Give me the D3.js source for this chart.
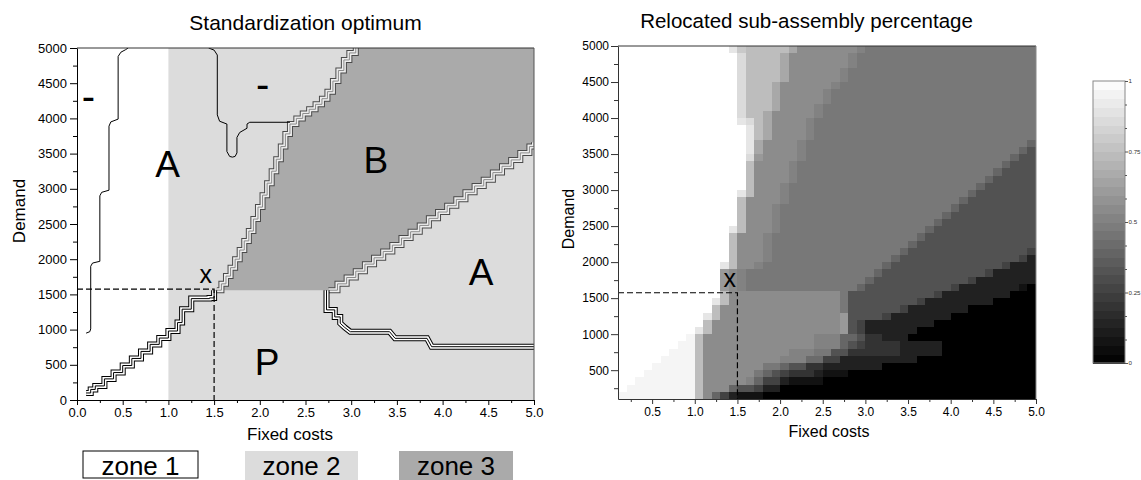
<!DOCTYPE html>
<html><head><meta charset="utf-8">
<script src="https://cdn.jsdelivr.net/npm/d3@7"></script>
<style>
html,body{margin:0;padding:0;background:#fff;}
svg{display:block;font-family:"Liberation Sans",Arial,Helvetica,sans-serif;}
</style></head><body>
<svg id="c" width="1141" height="480"></svg>
<script>
// ================= DATA =================
// Left chart: axis ticks
const leftXTicks = [0,0.5,1,1.5,2,2.5,3,3.5,4,4.5,5];
const leftXMinor = [0.25,0.75,1.25,1.75,2.25,2.75,3.25,3.75,4.25,4.75];
const leftYTicks = [0,500,1000,1500,2000,2500,3000,3500,4000,4500,5000];
const leftYMinor = [250,750,1250,1750,2250,2750,3250,3750,4250,4750];

// zone 1 / zone 2 split on fixed costs
const zoneSplit = 1.0;

// zone 3 (B) boundaries [fixed cost, demand]
const bLeftEdge = [[1.53,1560],[1.58,1650],[1.63,1760],[1.68,1880],[1.73,2000],[1.78,2130],[1.83,2260],[1.88,2400],[1.93,2570],[1.98,2740],[2.03,2910],[2.08,3080],[2.13,3250],[2.18,3420],[2.23,3600],[2.28,3780],[2.33,3920],[2.4,4000],[2.47,4070],[2.54,4130],[2.61,4200],[2.68,4280],[2.74,4380],[2.8,4530],[2.86,4680],[2.92,4830],[2.98,4930],[3.05,5000]];
const bRightEdge = [[2.75,1560],[2.85,1650],[2.95,1740],[3.05,1830],[3.15,1930],[3.25,2020],[3.35,2110],[3.45,2200],[3.55,2300],[3.65,2390],[3.75,2480],[3.85,2580],[3.95,2670],[4.05,2760],[4.15,2850],[4.25,2950],[4.35,3040],[4.45,3130],[4.55,3230],[4.65,3320],[4.75,3410],[4.85,3510],[4.95,3600],[5.0,3660]];

// zone 1 diagonal staircase boundary
const diagEdge = [[0.1,100],[0.15,150],[0.2,200],[0.3,300],[0.4,390],[0.5,490],[0.6,590],[0.7,690],[0.8,790],[0.9,880],[1.0,980],[1.1,1100],[1.15,1290],[1.25,1440],[1.45,1450],[1.5,1560]];

// P / A boundary
const paEdge = [[2.73,1560],[2.73,1280],[2.82,1280],[2.82,1180],[2.88,1180],[2.88,1090],[2.93,1030],[2.99,970],[3.42,970],[3.48,876],[3.83,876],[3.88,757],[5.0,757]];

// thin contour in zone 1 ("-" / "A")
const contourZone1 = [[0.10,950],[0.14,970],[0.15,1010],[0.15,1900],[0.17,1945],[0.25,1970],[0.25,2900],[0.27,2950],[0.35,2980],[0.35,3890],[0.37,3950],[0.45,3990],[0.45,4880],[0.48,4940],[0.53,4975],[0.56,5000]];
// thin contour in zone 2 ("-" region)
const contourZone2 = [[1.44,5000],[1.50,4970],[1.535,4900],[1.535,4050],[1.56,3960],[1.64,3920],[1.64,3530],[1.67,3460],[1.70,3450],[1.73,3460],[1.75,3510],[1.75,3730],[1.78,3800],[1.86,3860],[1.86,3920],[1.89,3945],[2.33,3945]];

// optimum point marker (fixed cost, demand) and label anchor
const optimum = [1.5, 1575];
const optimumLabel = [1.41, 1655];

// region labels in the left chart (baseline anchors in data units)
const regionText  = ["A","B","A","P","-","-"];
const regionX     = [0.99, 3.27, 4.42, 2.08, 0.126, 2.03];
const regionY     = [3167, 3224, 1633, 355, 4118, 4295];

// legend
const zoneNames = ["zone 1","zone 2","zone 3"];
const zoneFills = ["#ffffff","#dcdcdc","#aaaaaa"];

// Right chart: axis ticks
const rightXTicks = [0.5,1,1.5,2,2.5,3,3.5,4,4.5,5];
const rightXMinor = [0.25,0.75,1.25,1.75,2.25,2.75,3.25,3.75,4.25,4.75];
const rightYTicks = [500,1000,1500,2000,2500,3000,3500,4000,4500,5000];
const rightYMinor = [250,750,1250,1750,2250,2750,3250,3750,4250,4750];

// heatmap grid: columns fixed cost 0.1..5.0 (step 0.1), rows demand 5000..100 (step 100)
const heatX0 = 0.1, heatDX = 0.1, heatYTop = 5000, heatDY = 100;
// shade codes -> relocated percentage
const heatShades = {W:1, v:0.96, e:0.9, d:0.86, c:0.79, L:0.74, h:0.66, g:0.6, p:0.55, q:0.51, B:0.47, b:0.42, n:0.4, A:0.32, a:0.26, f:0.2, D:0.13, k:0.07, K:0};
// run-length rows, top (demand 5000) to bottom (demand 100)
const heatRows = [
"W13 e1 c1 L5 h1 p7 q1 B20",
"W14 d1 L4 h1 p7 q1 B21",
"W14 d1 L4 h1 p7 q1 B21",
"W14 d1 L4 h1 p6 q1 B22",
"W14 d1 L4 h1 p6 q1 B22",
"W14 d1 L3 h1 p6 q1 B23",
"W14 d1 L3 h1 p5 q1 B24",
"W14 d1 L3 h1 p5 q1 B24",
"W14 d1 L3 h1 p4 q1 B25",
"W14 d1 L2 h1 p5 q1 B25",
"W14 e1 d1 L1 h1 p4 q1 B26",
"W15 e1 L1 h1 p4 q1 B26",
"W15 e1 L1 h1 p4 q1 B26",
"W15 e1 h1 p4 q1 B26 n1",
"W15 e1 h1 p4 q1 B25 n1 A1",
"W15 d1 g1 p4 q1 B24 n1 A2",
"W15 L1 p4 q1 B24 n1 A3",
"W15 L1 p4 q1 B23 n1 A4",
"W15 L1 p4 q1 B22 n1 A5",
"W15 L1 p3 q1 B22 n1 A6",
"W14 e1 L1 p3 q1 B21 n1 A7",
"W14 L1 p4 q1 B20 n1 A8",
"W14 L1 p3 q1 B20 n1 A9",
"W14 L1 p3 q1 B19 n1 A10",
"W14 L1 p3 q1 B18 n1 A11",
"W13 e1 L1 p3 q1 B17 n1 A12",
"W13 L1 p3 q1 B17 n1 A13",
"W13 L1 p3 q1 B16 n1 A14",
"W13 L1 p3 q1 B15 n1 A14 a1",
"W13 L1 p3 q1 B14 n1 A14 a1 D1",
"W12 e1 L1 p2 q1 B14 n1 A13 a1 D3",
"W12 g1 p1 q1 B15 n1 A12 a1 D5",
"W12 g1 p1 q1 B14 n1 A11 a1 D7",
"W12 g1 p1 q1 B13 n1 A10 a1 D7 k1 K1",
"W12 L1 p13 B1 A10 a1 D8 K3",
"W11 e1 L1 p13 B1 A8 a1 D8 K5",
"W11 L1 p14 B1 A6 a1 D7 K8",
"W10 e1 L1 p14 g1 A4 a1 D7 K10",
"W10 L1 p15 g1 A1 a1 D8 K12",
"W9 e1 L1 p15 g1 A1 a1 D6 K14",
"W8 v1 L1 p13 q3 n2 A1 f2 D3 K15",
"W7 v2 L1 p13 q3 n1 A1 a1 f4 D5 K11",
"W6 v3 L1 p10 q3 B2 A2 f6 D5 K11",
"W5 v4 L1 p9 q3 b2 a2 D9 K14",
"W4 v5 L1 p7 B2 n1 A2 f2 D7 K18",
"W3 v6 L1 p6 B1 n1 A1 a1 f3 D1 k3 K22",
"W2 v7 L1 p5 q1 n1 a2 D1 k4 K25",
"W1 v8 L1 p3 n1 A2 a1 D2 K30",
"v9 L1 p1 n1 a1 D1 k3 K32"
];

// colour bar
const cbMajor = [0,0.25,0.5,0.75,1];
const cbMinor = [1,2,4,5,7,8,10,11].map(k => k/12);
const cbSteps = 32;

// ================= DRAW =================
const svg = d3.select("#c");
const FONT = '"Liberation Sans",Arial,Helvetica,sans-serif';
const gray = d3.scaleLinear().domain([0,1]).range(["#000000","#ffffff"]);

function styleAxis(g, size, color) {
  g.attr("font-family", FONT).attr("font-size", size);
  g.selectAll("text").attr("fill", "#000");
  g.selectAll("line").attr("stroke", color);
  g.select(".domain").attr("stroke", color);
}
const stepPts = pts => { const o=[]; pts.forEach((p,i)=>{ if(i) o.push([p[0], pts[i-1][1]]); o.push(p); }); return o; };

// ---------- LEFT CHART ----------
const xL = d3.scaleLinear().domain([0,5]).range([77,534]);
const yL = d3.scaleLinear().domain([0,5000]).range([400,48]);
const lineL = d3.line().x(d=>xL(d[0])).y(d=>yL(d[1]));

const defs = svg.append("defs");
defs.append("clipPath").attr("id","clipL").append("rect")
  .attr("x", xL(0)).attr("y", yL(5000)).attr("width", xL(5)-xL(0)).attr("height", yL(0)-yL(5000));

const gL = svg.append("g");
const pL = gL.append("g").attr("clip-path","url(#clipL)");

pL.append("rect").attr("x", xL(0)).attr("y", yL(5000))
  .attr("width", xL(zoneSplit)-xL(0)).attr("height", yL(0)-yL(5000)).attr("fill", zoneFills[0]);
pL.append("rect").attr("x", xL(zoneSplit)).attr("y", yL(5000))
  .attr("width", xL(5)-xL(zoneSplit)).attr("height", yL(0)-yL(5000)).attr("fill", zoneFills[1]);

const zone3Poly = stepPts(bLeftEdge).concat([[5,5000]], stepPts(bRightEdge).reverse());
pL.append("path").attr("d", lineL(zone3Poly) + "Z").attr("fill", zoneFills[2]);

function triple(g, d, outer, inner, center) {
  g.append("path").attr("d", d).attr("fill","none").attr("stroke", outer).attr("stroke-width", 6).attr("stroke-linejoin","miter");
  g.append("path").attr("d", d).attr("fill","none").attr("stroke", inner).attr("stroke-width", 4).attr("stroke-linejoin","miter");
  g.append("path").attr("d", d).attr("fill","none").attr("stroke", center).attr("stroke-width", 1).attr("stroke-linejoin","miter");
}
triple(pL, lineL(stepPts(bLeftEdge)), "#4a4a4a", "#eeeeee", "#8a8a8a");
triple(pL, lineL(stepPts(bRightEdge)), "#4a4a4a", "#eeeeee", "#8a8a8a");
triple(pL, lineL(stepPts(diagEdge)), "#000", "#fff", "#000");
triple(pL, lineL(paEdge), "#000", "#fff", "#000");

pL.append("path").attr("d", lineL(contourZone1)).attr("fill","none").attr("stroke","#000").attr("stroke-width",1);
pL.append("path").attr("d", lineL(contourZone2)).attr("fill","none").attr("stroke","#000").attr("stroke-width",1);

// dashed optimum lines
pL.append("path").attr("d", lineL([[0, optimum[1]], optimum, [optimum[0], 0]]))
  .attr("fill","none").attr("stroke","#000").attr("stroke-width",1.2).attr("stroke-dasharray","6,3");

// region labels
regionText.forEach((t,i)=>{
  gL.append("text").attr("x", xL(regionX[i])).attr("y", yL(regionY[i]))
    .attr("text-anchor","middle").attr("font-family",FONT)
    .attr("font-size", t === "-" ? 40 : 37).text(t);
});
gL.append("text").attr("x", xL(optimumLabel[0])).attr("y", yL(optimumLabel[1]))
  .attr("text-anchor","middle").attr("font-family",FONT).attr("font-size",25).text("x");

// frame top/right
gL.append("line").attr("x1",xL(0)).attr("x2",xL(5)).attr("y1",yL(5000)).attr("y2",yL(5000)).attr("stroke","#333");
gL.append("line").attr("x1",xL(5)).attr("x2",xL(5)).attr("y1",yL(5000)).attr("y2",yL(0)).attr("stroke","#555");

// axes
const axYL = gL.append("g").attr("transform",`translate(${xL(0)},0)`)
  .call(d3.axisLeft(yL).tickValues(leftYTicks).tickSize(7).tickSizeOuter(0).tickPadding(3).tickFormat(d3.format("d")));
styleAxis(axYL, 13, "#000");
const axYLm = gL.append("g").attr("transform",`translate(${xL(0)},0)`)
  .call(d3.axisLeft(yL).tickValues(leftYMinor).tickSize(4).tickSizeOuter(0).tickFormat(""));
styleAxis(axYLm, 13, "#000"); axYLm.select(".domain").remove();
const axXL = gL.append("g").attr("transform",`translate(0,${yL(0)})`)
  .call(d3.axisBottom(xL).tickValues(leftXTicks).tickSize(5).tickSizeOuter(0).tickPadding(3).tickFormat(d3.format(".1f")));
styleAxis(axXL, 13, "#000");
const axXLm = gL.append("g").attr("transform",`translate(0,${yL(0)})`)
  .call(d3.axisBottom(xL).tickValues(leftXMinor).tickSize(3).tickSizeOuter(0).tickFormat(""));
styleAxis(axXLm, 13, "#000"); axXLm.select(".domain").remove();

gL.append("text").attr("x", 305.5).attr("y", 30).attr("text-anchor","middle")
  .attr("font-family",FONT).attr("font-size",21).text("Standardization optimum");
gL.append("text").attr("x", 290).attr("y", 440).attr("text-anchor","middle")
  .attr("font-family",FONT).attr("font-size",17).text("Fixed costs");
gL.append("text").attr("transform","translate(25,211) rotate(-90)").attr("text-anchor","middle")
  .attr("font-family",FONT).attr("font-size",17).text("Demand");

// legend
const legX = [[83,198],[245,358],[399,513]];
zoneNames.forEach((z,i)=>{
  gL.append("rect").attr("x",legX[i][0]).attr("y",451).attr("width",legX[i][1]-legX[i][0]).attr("height", i===0 ? 27 : 29)
    .attr("fill", zoneFills[i]).attr("stroke", i===0 ? "#000" : "none");
  gL.append("text").attr("x",(legX[i][0]+legX[i][1])/2).attr("y",475).attr("text-anchor","middle")
    .attr("font-family",FONT).attr("font-size",26).text(z);
});

// ---------- RIGHT CHART ----------
const xR = d3.scaleLinear().domain([0.1,5]).range([618,1036]);
const yR = d3.scaleLinear().domain([100,5000]).range([399,46]);
const lineR = d3.line().x(d=>xR(d[0])).y(d=>yR(d[1]));
const gR = svg.append("g");

const cells = [];
heatRows.forEach((row,j)=>{
  let i = 0;
  row.trim().split(/\s+/).forEach(tok=>{
    const ch = tok[0], n = +tok.slice(1);
    for (let k=0;k<n;k++){ cells.push({i:i, j:j, v:heatShades[ch]}); i++; }
  });
});
gR.append("g").attr("shape-rendering","crispEdges").selectAll("rect").data(cells).join("rect")
  .attr("x", d => Math.round(xR(heatX0 + d.i*heatDX)))
  .attr("width", d => Math.round(xR(heatX0 + (d.i+1)*heatDX)) - Math.round(xR(heatX0 + d.i*heatDX)))
  .attr("y", d => Math.round(yR(heatYTop - d.j*heatDY)))
  .attr("height", d => Math.round(yR(heatYTop - (d.j+1)*heatDY)) - Math.round(yR(heatYTop - d.j*heatDY)))
  .attr("fill", d => gray(d.v));

gR.append("path").attr("d", lineR([[0.1, optimum[1]], optimum, [optimum[0], 100]]))
  .attr("fill","none").attr("stroke","#000").attr("stroke-width",1.2).attr("stroke-dasharray","6,3");
gR.append("text").attr("x", xR(optimumLabel[0])).attr("y", yR(optimumLabel[1]))
  .attr("text-anchor","middle").attr("font-family",FONT).attr("font-size",25).text("x");

gR.append("line").attr("x1",xR(0.1)).attr("x2",xR(5)).attr("y1",yR(5000)).attr("y2",yR(5000)).attr("stroke","#333");
gR.append("line").attr("x1",xR(5)).attr("x2",xR(5)).attr("y1",yR(5000)).attr("y2",yR(100)).attr("stroke","#888");

const axYR = gR.append("g").attr("transform",`translate(${xR(0.1)},0)`)
  .call(d3.axisLeft(yR).tickValues(rightYTicks).tickSize(7).tickSizeOuter(0).tickPadding(2).tickFormat(d3.format("d")));
styleAxis(axYR, 12, "#333");
const axYRm = gR.append("g").attr("transform",`translate(${xR(0.1)},0)`)
  .call(d3.axisLeft(yR).tickValues(rightYMinor).tickSize(4).tickSizeOuter(0).tickFormat(""));
styleAxis(axYRm, 12, "#333"); axYRm.select(".domain").remove();
const axXR = gR.append("g").attr("transform",`translate(0,${yR(100)})`)
  .call(d3.axisBottom(xR).tickValues(rightXTicks).tickSize(5).tickSizeOuter(0).tickPadding(3).tickFormat(d3.format(".1f")));
styleAxis(axXR, 12, "#333");
const axXRm = gR.append("g").attr("transform",`translate(0,${yR(100)})`)
  .call(d3.axisBottom(xR).tickValues(rightXMinor).tickSize(3).tickSizeOuter(0).tickFormat(""));
styleAxis(axXRm, 12, "#333"); axXRm.select(".domain").remove();

gR.append("text").attr("x", 806.5).attr("y", 28).attr("text-anchor","middle")
  .attr("font-family",FONT).attr("font-size",20.5).text("Relocated sub-assembly percentage");
gR.append("text").attr("x", 829).attr("y", 437).attr("text-anchor","middle")
  .attr("font-family",FONT).attr("font-size",16).text("Fixed costs");
gR.append("text").attr("transform","translate(573.5,219) rotate(-90)").attr("text-anchor","middle")
  .attr("font-family",FONT).attr("font-size",16).text("Demand");

// ---------- COLOUR BAR ----------
const cbY = d3.scaleLinear().domain([0,1]).range([363,81]);
const cbX0 = 1093, cbX1 = 1125;
const gC = svg.append("g");
gC.append("g").attr("shape-rendering","crispEdges").selectAll("rect").data(d3.range(cbSteps)).join("rect")
  .attr("x", cbX0).attr("width", cbX1-cbX0)
  .attr("y", k => cbY((k+1)/cbSteps)).attr("height", k => cbY(k/cbSteps)-cbY((k+1)/cbSteps)+0.5)
  .attr("fill", k => gray((k+0.5)/cbSteps));
gC.append("rect").attr("x",cbX0).attr("y",cbY(1)).attr("width",cbX1-cbX0).attr("height",cbY(0)-cbY(1))
  .attr("fill","none").attr("stroke","#888");
const axC = gC.append("g").attr("transform",`translate(${cbX1},0)`)
  .call(d3.axisRight(cbY).tickValues(cbMajor).tickSize(3).tickSizeOuter(0).tickPadding(0.5).tickFormat(d3.format("~g")));
styleAxis(axC, 6.2, "#555"); axC.select(".domain").remove();
axC.selectAll("text").attr("fill","#333");
const axCm = gC.append("g").attr("transform",`translate(${cbX1},0)`)
  .call(d3.axisRight(cbY).tickValues(cbMinor).tickSize(2).tickSizeOuter(0).tickFormat(""));
styleAxis(axCm, 6.2, "#555"); axCm.select(".domain").remove();
</script>
</body></html>
